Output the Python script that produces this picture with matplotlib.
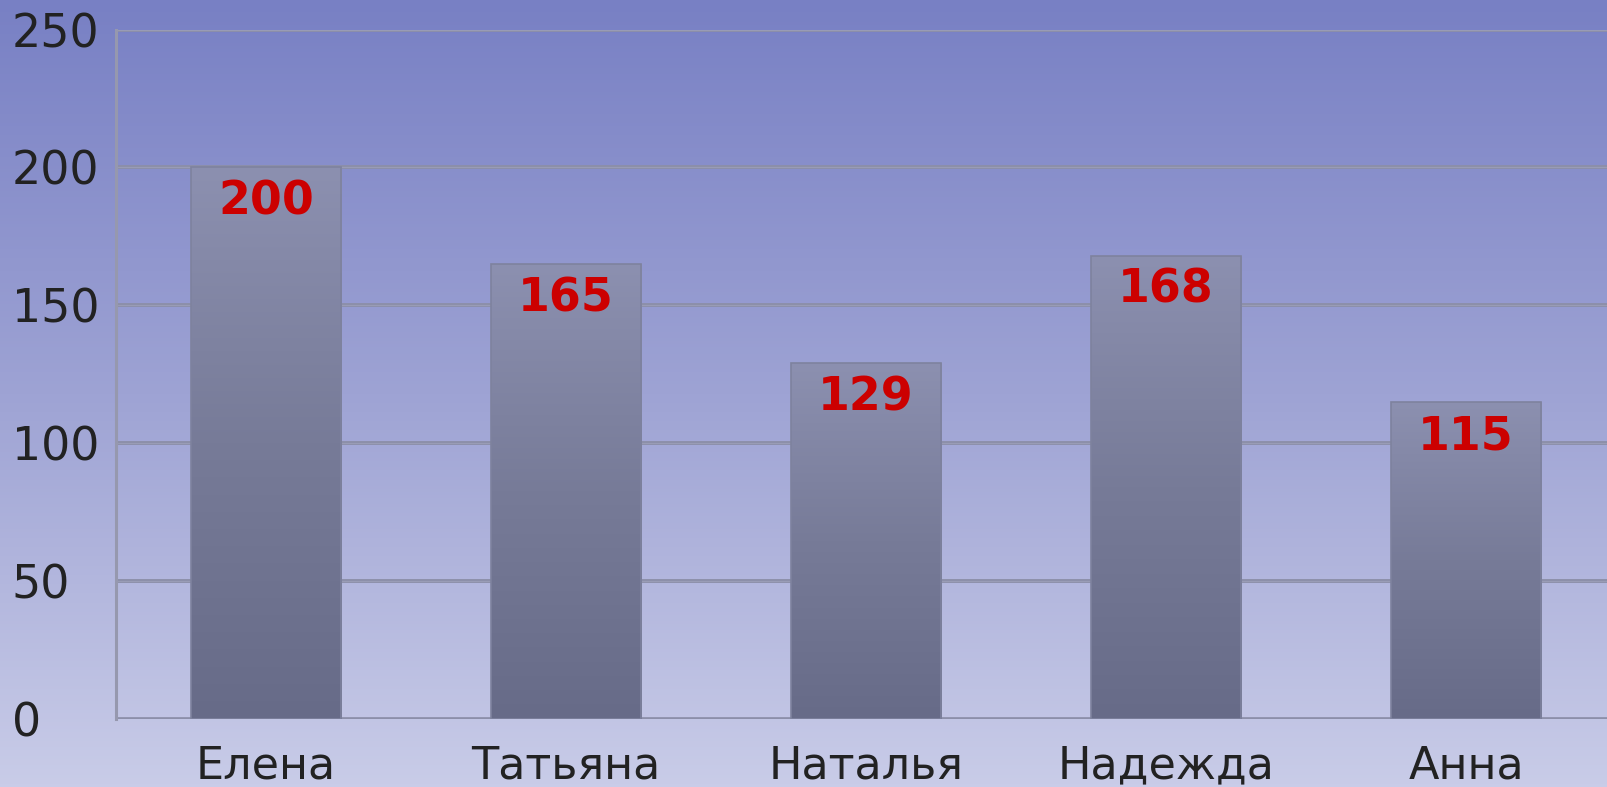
import numpy as np
import matplotlib
matplotlib.use("Agg")
import matplotlib.pyplot as plt
from matplotlib.colors import LinearSegmentedColormap

names = ["Елена", "Татьяна", "Наталья", "Надежда", "Анна"]
values = [200, 165, 129, 168, 115]
yticks = [0, 50, 100, 150, 200, 250]

fig = plt.figure(figsize=(16.08, 7.87), dpi=100)

# background gradient over the whole figure
bg = fig.add_axes([0, 0, 1, 1], zorder=0)
bg_cmap = LinearSegmentedColormap.from_list("bg", ["#c9cce8", "#9ea3d4", "#7880c4"])
bg.imshow(np.linspace(0, 1, 256).reshape(-1, 1), cmap=bg_cmap, aspect="auto",
          origin="lower", extent=[0, 1, 0, 1])
bg.axis("off")

ax = fig.add_axes([0.0721, 0.0864, 0.9329, 0.876], zorder=1)
ax.patch.set_alpha(0)
x = np.arange(len(names))

for y in yticks:
    lw = 3.4 if y == 0 else 2.8
    ax.axhline(y, color="#8c8fa9", lw=lw, zorder=1)
    ax.axhline(y, color="#9a9db6", lw=0.7, zorder=1.1)

bar_cmap = LinearSegmentedColormap.from_list("bar", ["#676b88", "#777b98", "#8c90b0"])
bars = ax.bar(x, values, width=0.5, color="none", edgecolor="#7e829e", lw=1.2, zorder=3)
for b in bars:
    x0, y0 = b.get_x(), b.get_y()
    im = ax.imshow(np.linspace(0, 1, 256).reshape(-1, 1), cmap=bar_cmap, aspect="auto",
                   origin="lower", extent=[x0, x0 + b.get_width(), y0, y0 + b.get_height()],
                   zorder=2)
    im.set_clip_path(b)
ax.set_xlim(-0.5, 4.5)
ax.set_ylim(0, 250)

for xi, v in zip(x, values):
    ax.annotate(str(v), (xi, v), xytext=(0, -25), textcoords="offset points",
                ha="center", va="center", color="#cc0000", fontsize=33,
                fontweight="bold", zorder=4)

for s in ["top", "right", "bottom"]:
    ax.spines[s].set_visible(False)
ax.spines["left"].set_color("#9698ae")
ax.spines["left"].set_linewidth(2.2)

ax.set_xticks(x)
ax.set_xticklabels(names, fontsize=32, color="#222222")
ax.set_yticks(yticks)
ax.set_yticklabels([str(t) for t in yticks], fontsize=33, color="#222222")
for lab in ax.get_yticklabels():
    lab.set_horizontalalignment("left")
ax.tick_params(axis="y", length=0, pad=75)
ax.tick_params(axis="x", length=0, pad=18)

fig.savefig("out.png", dpi=100)
